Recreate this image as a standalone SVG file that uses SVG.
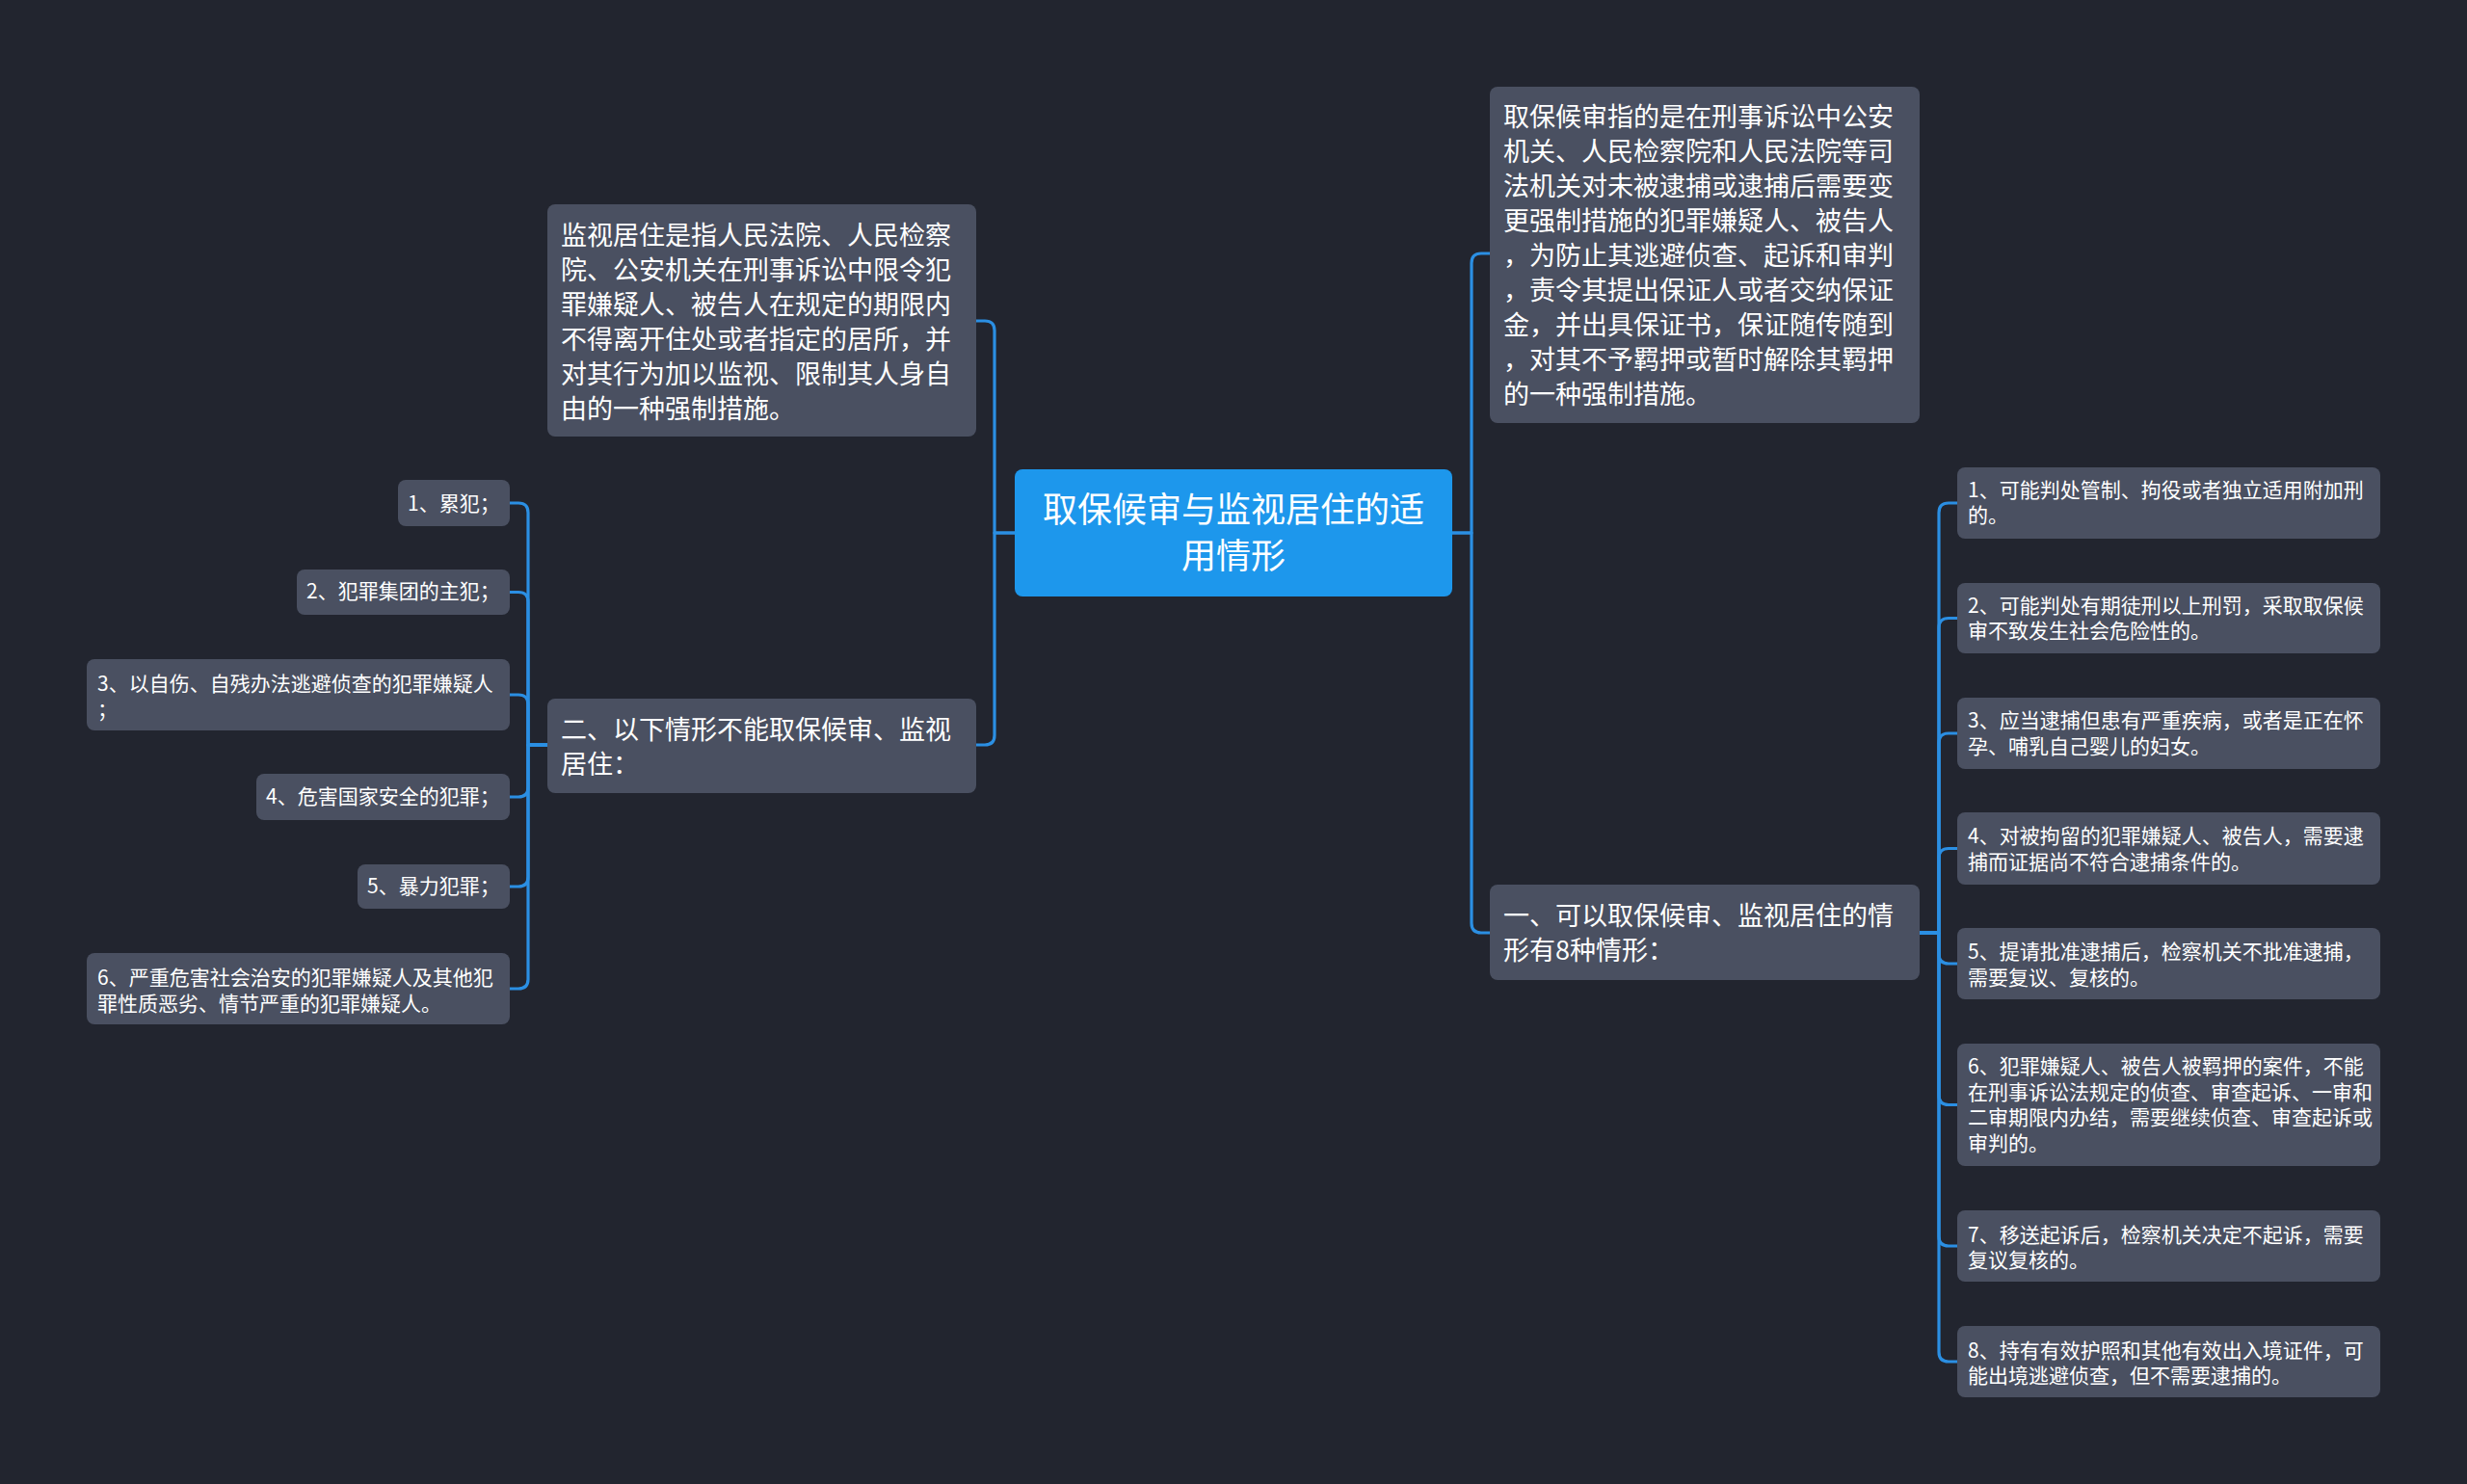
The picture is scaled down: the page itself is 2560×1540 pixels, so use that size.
<svg xmlns="http://www.w3.org/2000/svg" width="2560" height="1540" viewBox="0 0 2560 1540">
<style>
.bg{fill:#22252f}
.n{fill:#4a5061}
.root{fill:#1d97ec}
.t{font-family:"Noto Sans CJK SC","Noto Sans",sans-serif;fill:#ffffff}
.tl{font-size:27px}
.ts{font-size:21px}
.tr{font-size:36px}
.c{fill:none;stroke:#2b8fe3;stroke-width:3.2;stroke-linejoin:round}
</style>
<rect class="bg" x="0" y="0" width="2560" height="1540"/>
<g id="connectors">
<path class="c" d="M1053,553 H1032 V343 Q1032,333 1022,333 H1013"/>
<path class="c" d="M1053,553 H1032 V763 Q1032,773 1022,773 H1013"/>
<path class="c" d="M1507,553 H1527 V273 Q1527,263 1537,263 H1546"/>
<path class="c" d="M1507,553 H1527 V958 Q1527,968 1537,968 H1546"/>
<path class="c" d="M568,773 H548 V532 Q548,522 538,522 H529"/>
<path class="c" d="M568,773 H548 V624.5 Q548,614.5 538,614.5 H529"/>
<path class="c" d="M568,773 H548 V731 Q548,721 538,721 H529"/>
<path class="c" d="M568,773 H548 V817 Q548,827 538,827 H529"/>
<path class="c" d="M568,773 H548 V910 Q548,920 538,920 H529"/>
<path class="c" d="M568,773 H548 V1016 Q548,1026 538,1026 H529"/>
<path class="c" d="M1992,968 H2012 V532 Q2012,522 2022,522 H2031"/>
<path class="c" d="M1992,968 H2012 V651.5 Q2012,641.5 2022,641.5 H2031"/>
<path class="c" d="M1992,968 H2012 V771 Q2012,761 2022,761 H2031"/>
<path class="c" d="M1992,968 H2012 V890.5 Q2012,880.5 2022,880.5 H2031"/>
<path class="c" d="M1992,968 H2012 V990 Q2012,1000 2022,1000 H2031"/>
<path class="c" d="M1992,968 H2012 V1136.5 Q2012,1146.5 2022,1146.5 H2031"/>
<path class="c" d="M1992,968 H2012 V1283 Q2012,1293 2022,1293 H2031"/>
<path class="c" d="M1992,968 H2012 V1403 Q2012,1413 2022,1413 H2031"/>
</g>
<g id="root">
<rect class="root" x="1053" y="487" width="454" height="132" rx="8"/>
<text class="t tr" text-anchor="middle"><tspan x="1280" y="542">取保候审与监视居住的适</tspan><tspan x="1280" y="590">用情形</tspan></text>
</g>
<g id="node-jianshi">
<rect class="n" x="568" y="212" width="445" height="241" rx="8"/>
<text class="t tl"><tspan x="582" y="253.5">监视居住是指人民法院、人民检察</tspan><tspan x="582" y="289.5">院、公安机关在刑事诉讼中限令犯</tspan><tspan x="582" y="325.5">罪嫌疑人、被告人在规定的期限内</tspan><tspan x="582" y="361.5">不得离开住处或者指定的居所，并</tspan><tspan x="582" y="397.5">对其行为加以监视、限制其人身自</tspan><tspan x="582" y="433.5">由的一种强制措施。</tspan></text>
</g>
<g id="node-er">
<rect class="n" x="568" y="725" width="445" height="98" rx="8"/>
<text class="t tl"><tspan x="582" y="767">二、以下情形不能取保候审、监视</tspan><tspan x="582" y="803">居住：</tspan></text>
</g>
<g id="node-qubao">
<rect class="n" x="1546" y="90" width="446" height="349" rx="8"/>
<text class="t tl"><tspan x="1560" y="130.5">取保候审指的是在刑事诉讼中公安</tspan><tspan x="1560" y="166.5">机关、人民检察院和人民法院等司</tspan><tspan x="1560" y="202.5">法机关对未被逮捕或逮捕后需要变</tspan><tspan x="1560" y="238.5">更强制措施的犯罪嫌疑人、被告人</tspan><tspan x="1560" y="274.5">，为防止其逃避侦查、起诉和审判</tspan><tspan x="1560" y="310.5">，责令其提出保证人或者交纳保证</tspan><tspan x="1560" y="346.5">金，并出具保证书，保证随传随到</tspan><tspan x="1560" y="382.5">，对其不予羁押或暂时解除其羁押</tspan><tspan x="1560" y="418.5">的一种强制措施。</tspan></text>
</g>
<g id="node-yi">
<rect class="n" x="1546" y="918" width="446" height="99" rx="8"/>
<text class="t tl"><tspan x="1560" y="960">一、可以取保候审、监视居住的情</tspan><tspan x="1560" y="996">形有8种情形：</tspan></text>
</g>
<g id="left-1">
<rect class="n" x="413" y="498" width="116" height="48" rx="8"/>
<text class="t ts" x="423" y="530">1、累犯；</text>
</g>
<g id="left-2">
<rect class="n" x="308" y="591" width="221" height="47" rx="8"/>
<text class="t ts" x="318" y="621">2、犯罪集团的主犯；</text>
</g>
<g id="left-3">
<rect class="n" x="90" y="684" width="439" height="74" rx="8"/>
<text class="t ts"><tspan x="101" y="717">3、以自伤、自残办法逃避侦查的犯罪嫌疑人</tspan><tspan x="101" y="744">；</tspan></text>
</g>
<g id="left-4">
<rect class="n" x="266" y="803" width="263" height="48" rx="8"/>
<text class="t ts" x="276" y="834">4、危害国家安全的犯罪；</text>
</g>
<g id="left-5">
<rect class="n" x="371" y="897" width="158" height="46" rx="8"/>
<text class="t ts" x="381" y="927">5、暴力犯罪；</text>
</g>
<g id="left-6">
<rect class="n" x="90" y="989" width="439" height="74" rx="8"/>
<text class="t ts"><tspan x="101" y="1022">6、严重危害社会治安的犯罪嫌疑人及其他犯</tspan><tspan x="101" y="1049">罪性质恶劣、情节严重的犯罪嫌疑人。</tspan></text>
</g>
<g id="right-1">
<rect class="n" x="2031" y="485" width="439" height="74" rx="8"/>
<text class="t ts"><tspan x="2042" y="515.5">1、可能判处管制、拘役或者独立适用附加刑</tspan><tspan x="2042" y="541.5">的。</tspan></text>
</g>
<g id="right-2">
<rect class="n" x="2031" y="605" width="439" height="73" rx="8"/>
<text class="t ts"><tspan x="2042" y="635.5">2、可能判处有期徒刑以上刑罚，采取取保候</tspan><tspan x="2042" y="661.5">审不致发生社会危险性的。</tspan></text>
</g>
<g id="right-3">
<rect class="n" x="2031" y="724" width="439" height="74" rx="8"/>
<text class="t ts"><tspan x="2042" y="755">3、应当逮捕但患有严重疾病，或者是正在怀</tspan><tspan x="2042" y="782">孕、哺乳自己婴儿的妇女。</tspan></text>
</g>
<g id="right-4">
<rect class="n" x="2031" y="843" width="439" height="75" rx="8"/>
<text class="t ts"><tspan x="2042" y="875">4、对被拘留的犯罪嫌疑人、被告人，需要逮</tspan><tspan x="2042" y="902">捕而证据尚不符合逮捕条件的。</tspan></text>
</g>
<g id="right-5">
<rect class="n" x="2031" y="963" width="439" height="74" rx="8"/>
<text class="t ts"><tspan x="2042" y="995">5、提请批准逮捕后，检察机关不批准逮捕，</tspan><tspan x="2042" y="1022">需要复议、复核的。</tspan></text>
</g>
<g id="right-6">
<rect class="n" x="2031" y="1083" width="439" height="127" rx="8"/>
<text class="t ts"><tspan x="2042" y="1114">6、犯罪嫌疑人、被告人被羁押的案件，不能</tspan><tspan x="2042" y="1140.7">在刑事诉讼法规定的侦查、审查起诉、一审和</tspan><tspan x="2042" y="1167.4">二审期限内办结，需要继续侦查、审查起诉或</tspan><tspan x="2042" y="1194">审判的。</tspan></text>
</g>
<g id="right-7">
<rect class="n" x="2031" y="1256" width="439" height="74" rx="8"/>
<text class="t ts"><tspan x="2042" y="1289">7、移送起诉后，检察机关决定不起诉，需要</tspan><tspan x="2042" y="1315">复议复核的。</tspan></text>
</g>
<g id="right-8">
<rect class="n" x="2031" y="1376" width="439" height="74" rx="8"/>
<text class="t ts"><tspan x="2042" y="1409">8、持有有效护照和其他有效出入境证件，可</tspan><tspan x="2042" y="1435">能出境逃避侦查，但不需要逮捕的。</tspan></text>
</g>
</svg>
